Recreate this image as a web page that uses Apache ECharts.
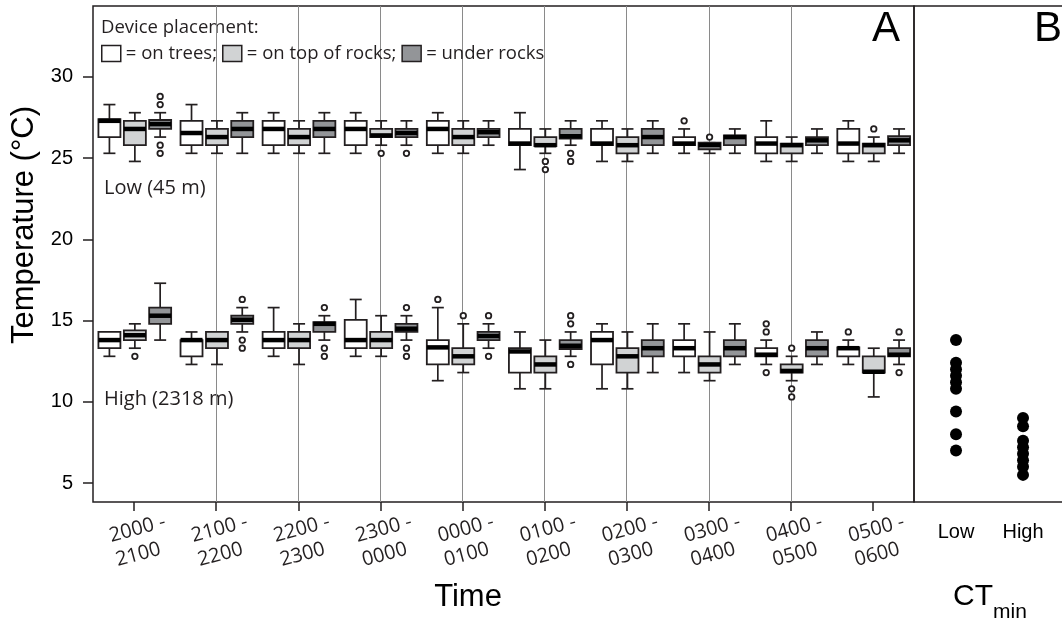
<!DOCTYPE html>
<html>
<head>
<meta charset="utf-8">
<script src="https://cdn.jsdelivr.net/npm/echarts@6/dist/echarts.min.js"></script>
<style>
  html, body { margin: 0; padding: 0; background: #fff; }
  #main { width: 1062px; height: 624px; }
</style>
</head>
<body>
<div id="main"></div>
<script>
// hours on the x axis
const timeLabels = ['2000 -\n2100', '2100 -\n2200', '2200 -\n2300', '2300 -\n0000', '0000 -\n0100',
  '0100 -\n0200', '0200 -\n0300', '0300 -\n0400', '0400 -\n0500', '0500 -\n0600'];
const yTicks = [5, 10, 15, 20, 25, 30];
const ctLabels = ['Low', 'High'];

// boxes: [min, q1, median, q3, max] per hour
const treesLow = [
  [25.3, 26.3, 27.3, 27.4, 28.3], [25.3, 25.8, 26.55, 27.3, 28.3], [25.3, 25.8, 26.8, 27.3, 27.8],
  [25.3, 25.8, 26.8, 27.3, 27.8], [25.3, 25.8, 26.8, 27.3, 27.8], [24.3, 25.8, 25.9, 26.8, 27.8],
  [24.8, 25.8, 25.9, 26.8, 27.3], [25.3, 25.8, 25.9, 26.3, 26.8], [24.8, 25.3, 25.9, 26.3, 27.3],
  [24.8, 25.3, 25.9, 26.8, 27.3]
];
const topRocksLow = [
  [24.8, 25.8, 26.8, 27.3, 27.8], [25.3, 25.8, 26.3, 26.8, 27.3], [25.3, 25.8, 26.3, 26.8, 27.3],
  [25.8, 26.3, 26.4, 26.8, 27.3], [25.3, 25.8, 26.3, 26.8, 27.3], [25.3, 25.75, 25.8, 26.3, 26.8],
  [24.8, 25.3, 25.8, 26.3, 26.8], [25.3, 25.55, 25.8, 25.95, 25.95], [24.8, 25.3, 25.8, 25.9, 26.3],
  [24.8, 25.3, 25.8, 25.9, 26.3]
];
const underRocksLow = [
  [26.3, 26.8, 27.1, 27.35, 27.8], [25.3, 26.3, 26.8, 27.3, 27.8], [25.3, 26.3, 26.8, 27.3, 27.8],
  [25.8, 26.3, 26.55, 26.8, 27.3], [25.8, 26.3, 26.6, 26.8, 27.3], [25.8, 26.2, 26.35, 26.8, 27.3],
  [25.3, 25.8, 26.3, 26.8, 27.3], [25.3, 25.8, 26.3, 26.4, 26.8], [25.3, 25.8, 26.1, 26.3, 26.8],
  [25.3, 25.8, 26.1, 26.35, 26.8]
];
const treesHigh = [
  [12.8, 13.3, 13.8, 14.3, 14.3], [12.3, 12.8, 13.8, 13.8, 14.3], [12.8, 13.3, 13.8, 14.3, 15.8],
  [12.8, 13.3, 13.8, 15.05, 16.3], [11.3, 12.3, 13.35, 13.8, 15.8], [10.8, 11.8, 13.1, 13.3, 14.3],
  [10.8, 12.3, 13.8, 14.3, 14.8], [11.8, 12.8, 13.3, 13.8, 14.8], [12.3, 12.8, 12.9, 13.3, 13.8],
  [12.3, 12.8, 13.3, 13.35, 13.8]
];
const topRocksHigh = [
  [13.3, 13.8, 14.1, 14.4, 14.8], [12.3, 13.3, 13.8, 14.3, 14.3], [12.3, 13.3, 13.8, 14.3, 14.8],
  [12.8, 13.3, 13.8, 14.3, 15.3], [11.8, 12.3, 12.8, 13.3, 14.8], [10.8, 11.8, 12.3, 12.8, 13.8],
  [10.8, 11.8, 12.8, 13.3, 14.3], [11.3, 11.8, 12.3, 12.8, 14.3], [11.3, 11.8, 11.9, 12.3, 12.8],
  [10.3, 11.8, 11.85, 12.8, 13.3]
];
const underRocksHigh = [
  [13.8, 14.8, 15.3, 15.8, 17.3], [14.3, 14.8, 15.05, 15.3, 15.8], [13.8, 14.3, 14.8, 14.9, 15.3],
  [13.8, 14.3, 14.5, 14.8, 15.3], [13.3, 13.8, 14.05, 14.3, 14.8], [12.8, 13.25, 13.45, 13.8, 14.3],
  [11.8, 12.8, 13.3, 13.8, 14.8], [12.3, 12.8, 13.3, 13.8, 14.8], [12.3, 12.8, 13.3, 13.8, 14.3],
  [12.3, 12.8, 12.9, 13.3, 13.8]
];

// outliers: [hour index, value]
const treesOutliers = [[7, 27.3], [4, 16.3], [8, 14.8], [8, 14.3], [8, 11.8], [9, 14.3]];
const topRocksOutliers = [[3, 25.3], [5, 24.8], [5, 24.3], [7, 26.3], [9, 26.8],
  [0, 12.8], [4, 15.3], [8, 13.3], [8, 10.8], [8, 10.3]];
const underRocksOutliers = [[0, 28.8], [0, 28.3], [0, 25.8], [0, 25.3], [3, 25.3], [5, 25.3], [5, 24.8],
  [1, 16.3], [1, 13.8], [1, 13.3], [2, 15.8], [2, 13.3], [2, 12.8], [3, 15.8], [3, 13.3], [3, 12.8],
  [4, 15.3], [4, 12.8], [5, 15.3], [5, 14.8], [5, 12.3], [9, 14.3], [9, 11.8]];

// CTmin of lizards
const ctminLow = [13.8, 12.4, 12.0, 11.6, 11.2, 10.8, 9.4, 8.0, 7.0];
const ctminHigh = [9.0, 8.5, 7.6, 7.2, 6.8, 6.4, 6.0, 5.5];

const INK = '#231f20';
const placements = [
  { name: 'on trees', fill: '#ffffff', low: treesLow, high: treesHigh, out: treesOutliers },
  { name: 'on top of rocks', fill: '#d1d3d4', low: topRocksLow, high: topRocksHigh, out: topRocksOutliers },
  { name: 'under rocks', fill: '#939598', low: underRocksLow, high: underRocksHigh, out: underRocksOutliers }
];
const slot = [-0.3, 0.01, 0.318]; // where each placement sits inside its hour

function boxItem(fill) {
  return function (params, api) {
    const x = api.value(0);
    const pMin = api.coord([x, api.value(1)]);
    const pQ1 = api.coord([x, api.value(2)]);
    const pMed = api.coord([x, api.value(3)]);
    const pQ3 = api.coord([x, api.value(4)]);
    const pMax = api.coord([x, api.value(5)]);
    const cx = pMin[0], half = 11, cap = 6;
    const line = { stroke: INK, lineWidth: 1.7 };
    return {
      type: 'group',
      children: [
        { type: 'line', shape: { x1: cx, y1: pMax[1], x2: cx, y2: pMin[1] }, style: line },
        { type: 'line', shape: { x1: cx - cap, y1: pMax[1], x2: cx + cap, y2: pMax[1] }, style: line },
        { type: 'line', shape: { x1: cx - cap, y1: pMin[1], x2: cx + cap, y2: pMin[1] }, style: line },
        { type: 'rect', shape: { x: cx - half, y: pQ3[1], width: half * 2, height: pQ1[1] - pQ3[1] },
          style: { fill: fill, stroke: INK, lineWidth: 1.8 } },
        { type: 'line', shape: { x1: cx - half, y1: pMed[1], x2: cx + half, y2: pMed[1] },
          style: { stroke: '#000', lineWidth: 4.5 } }
      ]
    };
  };
}

const series = [];
placements.forEach(function (p, k) {
  series.push({
    name: p.name,
    type: 'custom',
    xAxisIndex: 0,
    yAxisIndex: 0,
    renderItem: boxItem(p.fill),
    itemStyle: { color: p.fill, borderColor: INK, borderWidth: 1.5 },
    encode: { x: 0, y: [1, 2, 3, 4, 5] },
    data: p.low.concat(p.high).map((b, i) => [(i % 10) + 0.5 + slot[k]].concat(b))
  });
  series.push({
    name: p.name + ' outliers',
    type: 'scatter',
    xAxisIndex: 0,
    yAxisIndex: 0,
    symbol: 'circle',
    symbolSize: 5.5,
    itemStyle: { color: '#fff', borderColor: INK, borderWidth: 1.8, opacity: 1 },
    z: 3,
    data: p.out.map(o => [o[0] + 0.5 + slot[k], o[1]])
  });
});
series.push({
  name: 'CTmin',
  type: 'scatter',
  xAxisIndex: 1,
  yAxisIndex: 1,
  symbolSize: 12,
  itemStyle: { color: '#000', opacity: 1 },
  data: ctminLow.map(v => [1, v]).concat(ctminHigh.map(v => [2, v]))
});

const yMin = 3.83, yMax = 34.37;
const centers = timeLabels.map((t, i) => i + 0.5);

const option = {
  animation: false,
  backgroundColor: '#fff',
  grid: [
    { left: 93, top: 6, width: 821, height: 496, show: true, borderColor: INK, borderWidth: 1.5, outerBoundsMode: 'none' },
    { left: 914, top: 6, width: 170, height: 496, show: true, borderColor: INK, borderWidth: 1.5, outerBoundsMode: 'none' }
  ],
  legend: {
    left: 101,
    top: 44,
    padding: 0,
    itemGap: 5,
    itemWidth: 19,
    itemHeight: 16,
    icon: 'rect',
    selectedMode: false,
    data: placements.map(p => ({ name: p.name, itemStyle: { color: p.fill, borderColor: INK, borderWidth: 1.5 } })),
    formatter: function (name) {
      return '= ' + name + (name === 'under rocks' ? '' : ';');
    },
    textStyle: { fontFamily: 'Open Sans', fontSize: 18.5, color: INK }
  },
  xAxis: [
    {
      gridIndex: 0, type: 'value', min: 0, max: 10, interval: 1,
      axisLine: { show: false },
      splitLine: { show: true, showMinLine: false, showMaxLine: false, lineStyle: { color: '#8a8a8a', width: 1 } },
      axisTick: { show: true, customValues: centers, length: 9, lineStyle: { color: INK, width: 1.5 } },
      axisLabel: {
        customValues: centers,
        formatter: v => timeLabels[Math.floor(v)].split('\n').map(s => '{t|' + s + '}').join('\n'),
        rotate: 15, align: 'center', verticalAlign: 'top', margin: 15,
        rich: {
          t: { width: 57, align: 'left', fontFamily: 'Open Sans', fontSize: 20, lineHeight: 25, color: INK }
        }
      },
      name: 'Time', nameLocation: 'middle', nameGap: 80,
      nameTextStyle: { fontFamily: 'Liberation Sans', fontSize: 31, color: '#000', padding: [0, 71, 0, 0] }
    },
    {
      gridIndex: 1, type: 'value', min: 0.373, max: 2.91,
      axisLine: { show: false },
      splitLine: { show: false },
      axisTick: { show: false },
      axisLabel: {
        customValues: [1, 2],
        formatter: v => ctLabels[Math.round(v) - 1],
        margin: 20, fontFamily: 'Liberation Sans', fontSize: 20, color: '#000'
      },
      name: '{a|CT}{b|min}', nameLocation: 'middle', nameGap: 80,
      nameTextStyle: {
        padding: [0, 18, 0, 0],
        rich: {
          a: { fontFamily: 'Liberation Sans', fontSize: 30, color: '#000', lineHeight: 30, verticalAlign: 'top' },
          b: { fontFamily: 'Liberation Sans', fontSize: 21, color: '#000', lineHeight: 41, verticalAlign: 'bottom' }
        }
      }
    }
  ],
  yAxis: [
    {
      gridIndex: 0, type: 'value', min: yMin, max: yMax,
      axisLine: { show: false },
      splitLine: { show: false },
      axisTick: { show: true, customValues: yTicks, length: 10, lineStyle: { color: INK, width: 1.5 } },
      axisLabel: { customValues: yTicks, margin: 20, fontFamily: 'Liberation Sans', fontSize: 20, color: '#000' },
      name: 'Temperature (°C)', nameLocation: 'middle', nameGap: 49,
      nameTextStyle: { fontFamily: 'Liberation Sans', fontSize: 31, color: '#000', padding: [0, 0, 0, 58] }
    },
    { gridIndex: 1, type: 'value', min: yMin, max: yMax, show: false }
  ],
  graphic: [
    { type: 'text', x: 101, y: 28, style: { text: 'Device placement:', font: '18.5px "Open Sans"', fill: INK, verticalAlign: 'middle' } },
    { type: 'text', x: 104, y: 188, style: { text: 'Low (45 m)', font: '20px "Open Sans"', fill: INK, verticalAlign: 'middle' } },
    { type: 'text', x: 104, y: 399, style: { text: 'High (2318 m)', font: '20px "Open Sans"', fill: INK, verticalAlign: 'middle' } },
    { type: 'text', x: 900, y: 29, style: { text: 'A', font: '42px "Liberation Sans"', fill: '#000', align: 'right', verticalAlign: 'middle' } },
    { type: 'text', x: 1034, y: 29, style: { text: 'B', font: '42px "Liberation Sans"', fill: '#000', align: 'left', verticalAlign: 'middle' } }
  ],
  series: series
};

const chart = echarts.init(document.getElementById('main'), null, { renderer: 'canvas' });
chart.setOption(option);
</script>
</body>
</html>
